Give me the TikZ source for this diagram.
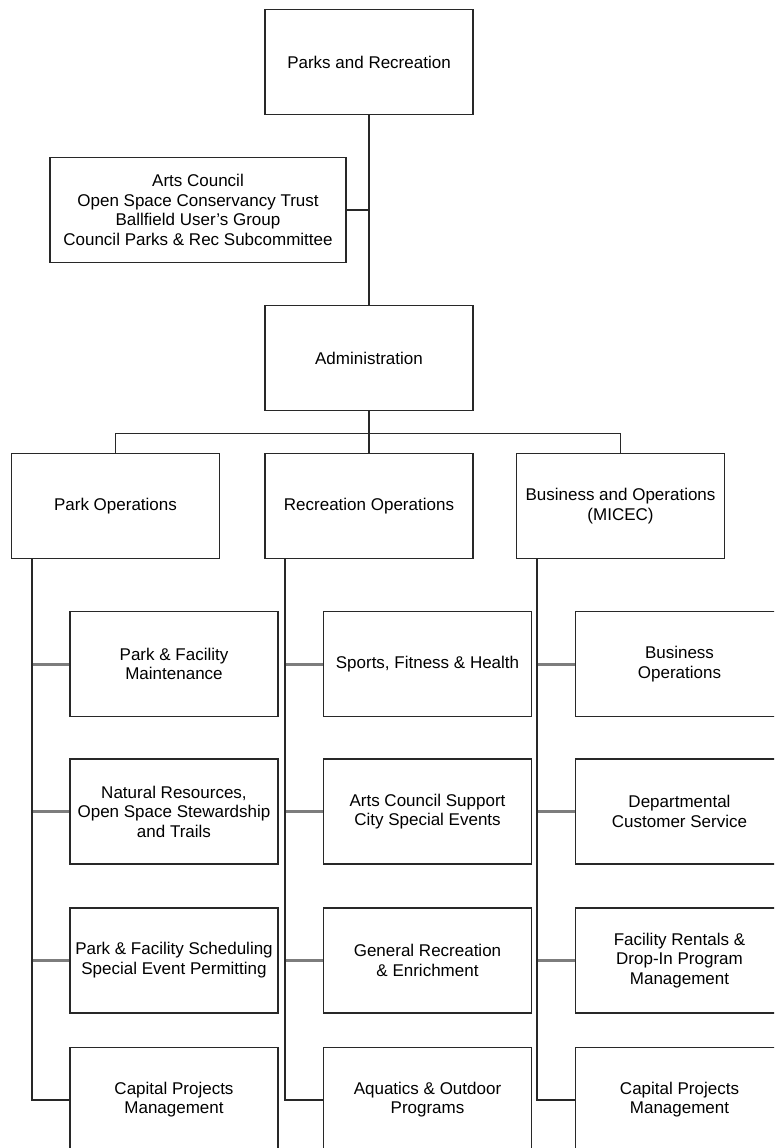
\documentclass[tikz,border=0pt]{standalone}
\usepackage{fontspec}
\setmainfont{Liberation Sans}
\usepackage{tikz}
\usetikzlibrary{positioning}
\usepackage{xcolor}
\definecolor{boxline}{RGB}{40,40,40}
\definecolor{linkgray}{RGB}{125,125,125}
\tikzstyle{unit} = [rectangle, minimum width=208pt, minimum height=105pt, text centered, align=center, draw=boxline, line width=1.6pt, fill=white, font=\fontsize{17}{19.5}\selectfont]
\tikzstyle{wire} = [line width=1.6pt, color=boxline]
\tikzstyle{branch} = [line width=3pt, color=linkgray]

\begin{document}
\begin{tikzpicture}[x=1pt, y=-1pt]
\fill[white] (0,0) rectangle (774,1148);
\clip (0,0) rectangle (774,1148);

% Top of the chart
\node (parks) [unit] at (369,62) {Parks and Recreation};
\node (advisory) [unit, minimum width=296pt] at (198,210) {Arts Council\\Open Space Conservancy Trust\\Ballfield User's Group\\Council Parks \& Rec Subcommittee};
\node (admin) [unit] at (369,358) {Administration};

% Divisions
\node (parkdiv) [unit] at (115.5,506) {Park Operations};
\node (recdiv) [unit] at (369,506) {Recreation Operations};
\node (busdiv) [unit] at (620.5,506) {Business and Operations\\(MICEC)};

% Park Operations units
\node (maint) [unit] at (174,664) {Park \& Facility\\Maintenance};
\node (natural) [unit, below=41pt of maint] {Natural Resources,\\Open Space Stewardship\\and Trails};
\node (sched) [unit, below=42pt of natural] {Park \& Facility Scheduling\\Special Event Permitting};
\node (parkcap) [unit, below=33pt of sched] {Capital Projects\\Management};

% Recreation Operations units
\node (sports) [unit] at (427.5,664) {Sports, Fitness \& Health};
\node (artsup) [unit, below=41pt of sports] {Arts Council Support\\City Special Events};
\node (general) [unit, below=42pt of artsup] {General Recreation\\\& Enrichment};
\node (aquatics) [unit, below=33pt of general] {Aquatics \& Outdoor\\Programs};

% Business and Operations units
\node (busops) [unit] at (679.5,664) {Business\\Operations};
\node (custserv) [unit, below=41pt of busops] {Departmental\\Customer Service};
\node (rentals) [unit, below=42pt of custserv] {Facility Rentals \&\\Drop-In Program\\Management};
\node (buscap) [unit, below=33pt of rentals] {Capital Projects\\Management};

% Trunk points
\coordinate (parktrunk) at ([xshift=21pt]parkdiv.south west);
\coordinate (rectrunk) at ([xshift=21pt]recdiv.south west);
\coordinate (bustrunk) at ([xshift=21pt]busdiv.south west);

% Upper connectors
\draw[wire] (parks) -- (admin);
\draw[wire] (advisory.east) -- (advisory.east -| parks.south);
\draw[wire] (admin.south) -- ++(0,22) -| (parkdiv.north);
\draw[wire] (admin.south) -- ++(0,22) -| (busdiv.north);
\draw[wire] (admin) -- (recdiv);

% Branches to units
\draw[branch] (maint.west) -- (maint.west -| parktrunk);
\draw[branch] (natural.west) -- (natural.west -| parktrunk);
\draw[branch] (sched.west) -- (sched.west -| parktrunk);
\draw[branch] (sports.west) -- (sports.west -| rectrunk);
\draw[branch] (artsup.west) -- (artsup.west -| rectrunk);
\draw[branch] (general.west) -- (general.west -| rectrunk);
\draw[branch] (busops.west) -- (busops.west -| bustrunk);
\draw[branch] (custserv.west) -- (custserv.west -| bustrunk);
\draw[branch] (rentals.west) -- (rentals.west -| bustrunk);

% Trunks
\draw[wire] (parktrunk) |- (parkcap.west);
\draw[wire] (rectrunk) |- (aquatics.west);
\draw[wire] (bustrunk) |- (buscap.west);
\end{tikzpicture}
\end{document}
